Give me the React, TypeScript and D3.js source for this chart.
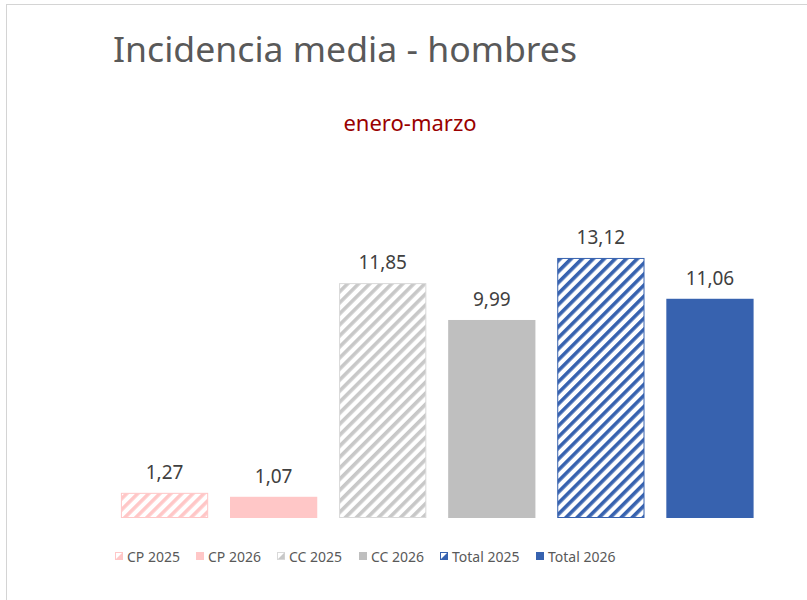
import React from "react";
import * as d3 from "d3";

const categories = ["CP 2025", "CP 2026", "CC 2025", "CC 2026", "Total 2025", "Total 2026"];
const values = [1.27, 1.07, 11.85, 9.99, 13.12, 11.06];
const labels = ["1,27", "1,07", "11,85", "9,99", "13,12", "11,06"];
const colors = ["#FFC7C7", "#FFC7C7", "#C8C8C8", "#BFBFBF", "#3762AF", "#3762AF"];
const hatched = [true, false, true, false, true, false];
const legendX = [115, 196, 277, 359, 440, 536];

export default function App() {
  const W = 807, H = 600;
  const x = d3.scaleBand<string>().domain(categories).range([110, 764.5]).paddingInner(0.2).paddingOuter(0.1);
  const y = d3.scaleLinear().domain([0, 14]).range([518, 240.5]);
  const font = "'Noto Sans', sans-serif";
  return (
    <svg width={W} height={H} style={{ position: "absolute", left: 0, top: 0 }} xmlns="http://www.w3.org/2000/svg">
      <defs>
        {categories.map((c, i) =>
          hatched[i] ? (
            <pattern key={c} id={`hatch${i}`} patternUnits="userSpaceOnUse" width={7.8} height={7.8} patternTransform="rotate(45)">
              <rect x={0} y={0} width={7.8} height={7.8} fill="#fff" />
              <rect x={0} y={0} width={3.6} height={7.8} fill={colors[i]} />
            </pattern>
          ) : null
        )}
      </defs>
      <rect x={0} y={0} width={W} height={H} fill="#fff" />
      <rect x={6.5} y={4.5} width={W + 10} height={H + 10} fill="none" stroke="#D4D4D4" strokeWidth={1} />
      <text x={113} y={62} fontFamily={font} fontSize={34} fill="#595959" textLength={464} lengthAdjust="spacingAndGlyphs">
        Incidencia media - hombres
      </text>
      <text x={410} y={131} textAnchor="middle" fontFamily={font} fontSize={22} fill="#990000">
        enero-marzo
      </text>
      {categories.map((c, i) => {
        const bx = x(c)!;
        const bw = x.bandwidth();
        const top = y(values[i]);
        const h = y(0) - top;
        return (
          <g key={c}>
            {hatched[i] ? (
              <rect x={bx + 0.5} y={top + 0.5} width={bw - 1} height={h - 1} fill={`url(#hatch${i})`} stroke={i === 2 ? "#D9D9D9" : colors[i]} strokeWidth={1} />
            ) : (
              <rect x={bx} y={top} width={bw} height={h} fill={colors[i]} />
            )}
            <text x={bx + bw / 2} y={top - 14} textAnchor="middle" fontFamily={font} fontSize={19} fill="#404040">
              {labels[i]}
            </text>
          </g>
        );
      })}
      {categories.map((c, i) => (
        <g key={"lg" + c}>
          {hatched[i] ? (
            <g>
              <rect x={legendX[i] + 0.5} y={552.5} width={7} height={7} fill="#fff" stroke={i === 2 ? "#D9D9D9" : colors[i]} />
              <path d={`M${legendX[i] + 1},${559} L${legendX[i] + 7.5},${552.5} L${legendX[i] + 7.5},${559} Z`} fill={colors[i]} />
            </g>
          ) : (
            <rect x={legendX[i]} y={552} width={8} height={8} fill={colors[i]} />
          )}
          <text x={legendX[i] + 12} y={561.5} fontFamily={font} fontSize={14} fill="#595959">
            {c}
          </text>
        </g>
      ))}
    </svg>
  );
}
